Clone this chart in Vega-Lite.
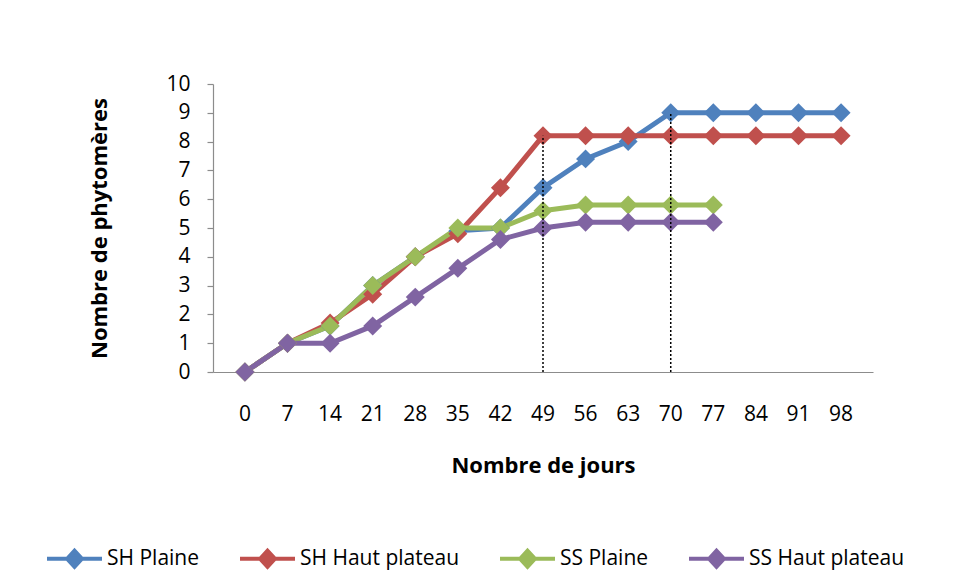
{
  "$schema": "https://vega.github.io/schema/vega-lite/v6.json",
  "autosize": "none",
  "width": 660,
  "height": 288,
  "padding": {"left": 213, "top": 84, "right": 95, "bottom": 213},
  "background": "#ffffff",
  "config": {
    "view": {"stroke": null},
    "font": "Open Sans",
    "axis": {"grid": false, "labelFont": "Open Sans", "titleFont": "Open Sans", "labelColor": "#000000", "titleColor": "#000000", "domainColor": "#8c8c8c", "tickColor": "#8c8c8c", "domainWidth": 1.2, "tickWidth": 1.2, "labelOverlap": false}
  },
  "datasets": {
    "series": [
      {"jour": 0, "serie": "SH Plaine", "n": 0},
      {"jour": 7, "serie": "SH Plaine", "n": 1},
      {"jour": 14, "serie": "SH Plaine", "n": 1.6},
      {"jour": 21, "serie": "SH Plaine", "n": 3},
      {"jour": 28, "serie": "SH Plaine", "n": 4},
      {"jour": 35, "serie": "SH Plaine", "n": 4.9},
      {"jour": 42, "serie": "SH Plaine", "n": 5},
      {"jour": 49, "serie": "SH Plaine", "n": 6.4},
      {"jour": 56, "serie": "SH Plaine", "n": 7.4},
      {"jour": 63, "serie": "SH Plaine", "n": 8},
      {"jour": 70, "serie": "SH Plaine", "n": 9},
      {"jour": 77, "serie": "SH Plaine", "n": 9},
      {"jour": 84, "serie": "SH Plaine", "n": 9},
      {"jour": 91, "serie": "SH Plaine", "n": 9},
      {"jour": 98, "serie": "SH Plaine", "n": 9},
      {"jour": 0, "serie": "SH Haut plateau", "n": 0},
      {"jour": 7, "serie": "SH Haut plateau", "n": 1},
      {"jour": 14, "serie": "SH Haut plateau", "n": 1.7},
      {"jour": 21, "serie": "SH Haut plateau", "n": 2.7},
      {"jour": 28, "serie": "SH Haut plateau", "n": 4},
      {"jour": 35, "serie": "SH Haut plateau", "n": 4.8},
      {"jour": 42, "serie": "SH Haut plateau", "n": 6.4},
      {"jour": 49, "serie": "SH Haut plateau", "n": 8.2},
      {"jour": 56, "serie": "SH Haut plateau", "n": 8.2},
      {"jour": 63, "serie": "SH Haut plateau", "n": 8.2},
      {"jour": 70, "serie": "SH Haut plateau", "n": 8.2},
      {"jour": 77, "serie": "SH Haut plateau", "n": 8.2},
      {"jour": 84, "serie": "SH Haut plateau", "n": 8.2},
      {"jour": 91, "serie": "SH Haut plateau", "n": 8.2},
      {"jour": 98, "serie": "SH Haut plateau", "n": 8.2},
      {"jour": 0, "serie": "SS Plaine", "n": 0},
      {"jour": 7, "serie": "SS Plaine", "n": 1},
      {"jour": 14, "serie": "SS Plaine", "n": 1.6},
      {"jour": 21, "serie": "SS Plaine", "n": 3},
      {"jour": 28, "serie": "SS Plaine", "n": 4},
      {"jour": 35, "serie": "SS Plaine", "n": 5},
      {"jour": 42, "serie": "SS Plaine", "n": 5},
      {"jour": 49, "serie": "SS Plaine", "n": 5.6},
      {"jour": 56, "serie": "SS Plaine", "n": 5.8},
      {"jour": 63, "serie": "SS Plaine", "n": 5.8},
      {"jour": 70, "serie": "SS Plaine", "n": 5.8},
      {"jour": 77, "serie": "SS Plaine", "n": 5.8},
      {"jour": 0, "serie": "SS Haut plateau", "n": 0},
      {"jour": 7, "serie": "SS Haut plateau", "n": 1},
      {"jour": 14, "serie": "SS Haut plateau", "n": 1},
      {"jour": 21, "serie": "SS Haut plateau", "n": 1.6},
      {"jour": 28, "serie": "SS Haut plateau", "n": 2.6},
      {"jour": 35, "serie": "SS Haut plateau", "n": 3.6},
      {"jour": 42, "serie": "SS Haut plateau", "n": 4.6},
      {"jour": 49, "serie": "SS Haut plateau", "n": 5},
      {"jour": 56, "serie": "SS Haut plateau", "n": 5.2},
      {"jour": 63, "serie": "SS Haut plateau", "n": 5.2},
      {"jour": 70, "serie": "SS Haut plateau", "n": 5.2},
      {"jour": 77, "serie": "SS Haut plateau", "n": 5.2}
    ],
    "repères": [
      {"jour": 49, "bas": 0, "haut": 8.2},
      {"jour": 70, "bas": 0, "haut": 9}
    ]
  },
  "layer": [
    {
      "data": {"name": "series"},
      "mark": {"type": "line", "strokeWidth": 5, "point": {"shape": "diamond", "size": 360, "filled": true, "opacity": 1}},
      "encoding": {
        "x": {
          "field": "jour", "type": "ordinal",
          "scale": {"domain": [0, 7, 14, 21, 28, 35, 42, 49, 56, 63, 70, 77, 84, 91, 98], "padding": 0.5},
          "axis": {"title": "Nombre de jours", "labelAngle": 0, "labelFontSize": 21, "labelPadding": 31, "ticks": false, "labelOverlap": false, "titleFontSize": 22, "titleFontWeight": "bold", "titlePadding": 31}
        },
        "y": {
          "field": "n", "type": "quantitative",
          "scale": {"domain": [0, 10], "nice": false, "zero": true},
          "axis": {"title": "Nombre de phytomères", "values": [0, 1, 2, 3, 4, 5, 6, 7, 8, 9, 10], "labelOverlap": false, "labelFontSize": 21, "tickSize": 6, "labelPadding": 17, "titleFontSize": 22, "titleFontWeight": "bold", "titlePadding": 54}
        },
        "color": {
          "field": "serie", "type": "nominal",
          "scale": {"domain": ["SH Plaine", "SH Haut plateau", "SS Plaine", "SS Haut plateau"], "range": ["#4F81BD", "#C0504D", "#9BBB59", "#8064A2"]},
          "legend": {
            "title": null, "orient": "none", "direction": "horizontal", "legendX": -168, "legendY": 445,
            "symbolType": "M-1,0H1M-0.27,0L0,-0.29L0.27,0L0,0.29Z", "symbolSize": 3025, "symbolStrokeWidth": 4,
            "labelFont": "Open Sans", "labelFontSize": 21, "labelColor": "#000000", "labelOffset": 3, "columnPadding": 32,
            "encode": {"symbols": {"update": {"fill": {"scale": "color", "field": "value"}, "stroke": {"scale": "color", "field": "value"}, "opacity": {"value": 1}}}}
          }
        },
        "order": {"field": "jour", "type": "quantitative"}
      }
    },
    {
      "data": {"name": "repères"},
      "mark": {"type": "rule", "color": "#000000", "strokeWidth": 1.5, "strokeDash": [2, 2]},
      "encoding": {
        "x": {
          "field": "jour", "type": "ordinal",
          "axis": {"title": "Nombre de jours", "labelAngle": 0, "labelFontSize": 21, "labelPadding": 31, "ticks": false, "labelOverlap": false, "titleFontSize": 22, "titleFontWeight": "bold", "titlePadding": 31}
        },
        "y": {
          "field": "bas", "type": "quantitative",
          "axis": {"title": "Nombre de phytomères", "values": [0, 1, 2, 3, 4, 5, 6, 7, 8, 9, 10], "labelOverlap": false, "labelFontSize": 21, "tickSize": 6, "labelPadding": 17, "titleFontSize": 22, "titleFontWeight": "bold", "titlePadding": 54}
        },
        "y2": {"field": "haut"}
      }
    }
  ]
}
